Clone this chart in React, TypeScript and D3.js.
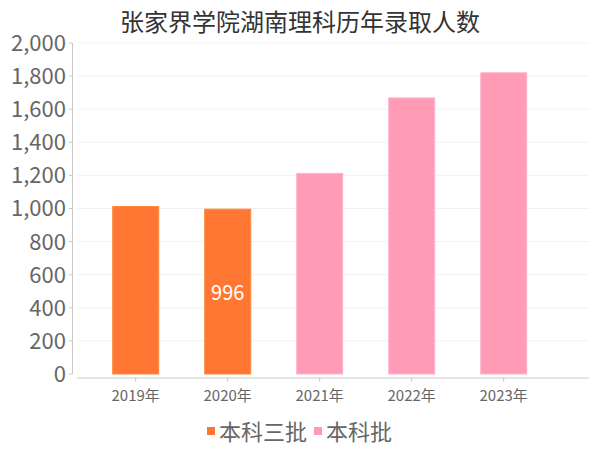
import React from "react";
import * as d3 from "d3";

const title = "张家界学院湖南理科历年录取人数";
const years = ["2019年", "2020年", "2021年", "2022年", "2023年"];
const batches = ["本科三批", "本科三批", "本科批", "本科批", "本科批"];
const values = [1012, 996, 1212, 1668, 1820];
const labeledIndex = [1];
const seriesNames = ["本科三批", "本科批"];
const seriesColors = ["#FF7733", "#FF9BB5"];
const yTicks = [0, 200, 400, 600, 800, 1000, 1200, 1400, 1600, 1800, 2000];

const W = 600;
const H = 450;
const FONT = "'Noto Sans CJK SC', 'Noto Sans', sans-serif";

export default function App() {
  const y = d3.scaleLinear().domain([0, 2000]).range([374, 43]);
  const x = d3.scaleBand<string>().domain(years).range([89.7, 549.7]).paddingInner(0.5).paddingOuter(0.25);
  const color = d3.scaleOrdinal<string, string>().domain(seriesNames).range(seriesColors);
  const fmt = d3.format(",");
  const axisColor = "#c8c8c8";
  const textColor = "#666666";

  return (
    <svg width={W} height={H} style={{ position: "absolute", left: 0, top: 0 }} fontFamily={FONT}>
      <rect width={W} height={H} fill="#ffffff" />
      <text x={300} y={31} textAnchor="middle" fontSize={24} fill="#333333">{title}</text>
      {yTicks.map((t) => (
        <g key={t}>
          {t > 0 && <line x1={77} x2={589} y1={y(t)} y2={y(t)} stroke="#f2f2f2" strokeWidth={1} />}
          <line x1={69} x2={72} y1={y(t)} y2={y(t)} stroke={axisColor} />
          <text x={66} y={y(t)} dy="0.36em" textAnchor="end" fontSize={22} fill={textColor}>{fmt(t)}</text>
        </g>
      ))}
      <line x1={72.5} x2={72.5} y1={43} y2={374} stroke={axisColor} />
      {years.map((yr, i) => (
        <g key={yr}>
          <rect
            x={x(yr)!}
            y={y(values[i])}
            width={x.bandwidth()}
            height={y(0) - y(values[i])}
            fill={color(batches[i])}
            stroke={d3.color(color(batches[i]))!.brighter(0.4).formatHex()}
            strokeWidth={1}
          />
          {labeledIndex.includes(i) && (
            <text x={x(yr)! + x.bandwidth() / 2} y={300} textAnchor="middle" fontSize={20} fill="#ffffff">{values[i]}</text>
          )}
          <line x1={x(yr)! + x.bandwidth() / 2} x2={x(yr)! + x.bandwidth() / 2} y1={378} y2={382} stroke={axisColor} />
          <text x={x(yr)! + x.bandwidth() / 2} y={401} textAnchor="middle" fontSize={15} fill={textColor}>{yr}</text>
        </g>
      ))}
      <line x1={77} x2={589} y1={378} y2={378} stroke={axisColor} />
      {(() => {
        const pos = [207, 314];
        return seriesNames.map((s, i) => (
          <g key={s}>
            <rect x={pos[i]} y={427} width={8} height={8} fill={color(s)} />
            <text x={pos[i] + 12} y={440} fontSize={22} fill={textColor}>{s}</text>
          </g>
        ));
      })()}
    </svg>
  );
}
